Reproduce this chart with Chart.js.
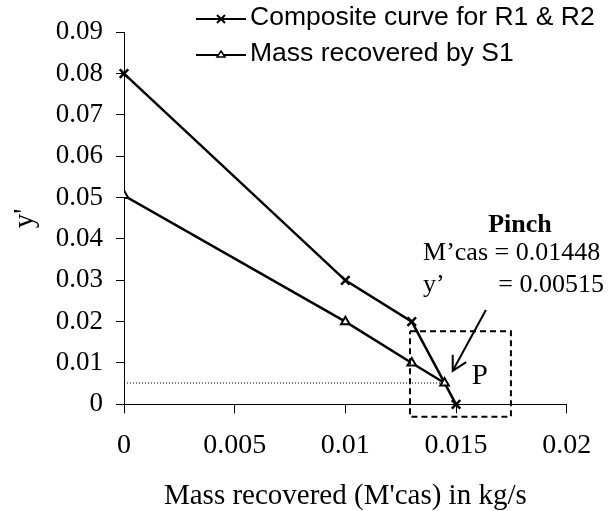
<!DOCTYPE html>
<html>
<head>
<meta charset="utf-8">
<script src="https://cdn.jsdelivr.net/npm/chart.js@4/dist/chart.umd.min.js"></script>
<style>
html, body { margin: 0; padding: 0; background: #fff; }
</style>
</head>
<body>
<canvas id="chart" width="608" height="511"></canvas>
<script>
// values
const compositeX = [0, 0.01, 0.013, 0.015];
const compositeY = [0.08, 0.03, 0.02, 0];
const s1X = [0, 0.01, 0.013, 0.01448];
const s1Y = [0.0505, 0.02, 0.01, 0.00515];
const seriesNames = ['Composite curve for R1 & R2', 'Mass recovered by S1'];
const xTickLabels = ['0', '0.005', '0.01', '0.015', '0.02'];
const yTickLabels = ['0', '0.01', '0.02', '0.03', '0.04', '0.05', '0.06', '0.07', '0.08', '0.09'];

// pinch point and the marks around it
const pinchX = 0.01448;
const pinchY = 0.00515;
const boxX = [0.01292, 0.01748];
const boxY = [-0.003, 0.0177];
const arrowFrom = [0.01635, 0.0228];
const arrowTo = [0.01485, 0.0081];

const serif = '"Liberation Serif", "Times New Roman", serif';
const sans = '"Liberation Sans", Arial, sans-serif';

const toPts = (xs, ys) => xs.map((x, i) => ({ x: x, y: ys[i] }));

const pinchNotes = {
    id: 'pinchNotes',
    afterDatasetsDraw(chart) {
        const ctx = chart.ctx;
        const xs = chart.scales.x, ys = chart.scales.y;
        const px = v => xs.getPixelForValue(v);
        const py = v => ys.getPixelForValue(v);
        ctx.save();
        ctx.fillStyle = '#000';
        ctx.strokeStyle = '#000';

        // arrow head
        const tx = px(arrowTo[0]), ty = py(arrowTo[1]);
        const ang = Math.atan2(py(arrowFrom[1]) - ty, px(arrowFrom[0]) - tx);
        ctx.lineWidth = 2;
        ctx.beginPath();
        ctx.moveTo(tx + 16 * Math.cos(ang - 0.5), ty + 16 * Math.sin(ang - 0.5));
        ctx.lineTo(tx, ty);
        ctx.lineTo(tx + 16 * Math.cos(ang + 0.5), ty + 16 * Math.sin(ang + 0.5));
        ctx.stroke();

        // texts
        ctx.textBaseline = 'middle';
        ctx.textAlign = 'center';
        ctx.font = 'bold 26px ' + serif;
        ctx.fillText('Pinch', px(0.01789), py(0.0434));
        ctx.font = '26px ' + serif;
        ctx.textAlign = 'left';
        ctx.fillText('M\u2019cas = ' + pinchX, px(0.01351), py(0.0366));
        ctx.fillText('y\u2019', px(0.01351), py(0.0289));
        ctx.textAlign = 'right';
        ctx.fillText('= ' + pinchY, px(0.02168), py(0.0289));
        ctx.textAlign = 'center';
        ctx.font = '29px ' + serif;
        ctx.fillText('P', px(0.01608), py(0.0067));

        // legend
        ctx.font = '26.5px ' + sans;
        ctx.textAlign = 'left';
        const rows = [18, 54];
        seriesNames.forEach((name, i) => {
            const y = rows[i];
            ctx.lineWidth = 2;
            ctx.beginPath();
            ctx.moveTo(196, y + 1);
            ctx.lineTo(246, y + 1);
            ctx.stroke();
            if (i === 0) {
                ctx.beginPath();
                ctx.moveTo(217, y - 3); ctx.lineTo(225, y + 5);
                ctx.moveTo(225, y - 3); ctx.lineTo(217, y + 5);
                ctx.stroke();
            } else {
                ctx.lineWidth = 1.5;
                ctx.fillStyle = '#fff';
                ctx.beginPath();
                ctx.moveTo(221, y - 3); ctx.lineTo(225, y + 3); ctx.lineTo(217, y + 3);
                ctx.closePath();
                ctx.fill();
                ctx.stroke();
                ctx.fillStyle = '#000';
            }
            ctx.fillText(name, 250, y);
        });
        ctx.restore();
    }
};

const ctx = document.getElementById('chart').getContext('2d');
new Chart(ctx, {
    type: 'scatter',
    data: {
        datasets: [
            {
                // dotted guide to the pinch
                data: [{ x: 0, y: pinchY }, { x: pinchX, y: pinchY }],
                showLine: true,
                borderColor: '#000',
                borderWidth: 1,
                borderDash: [1, 2],
                pointRadius: 0
            },
            {
                // dashed box round the pinch
                data: [
                    { x: boxX[0], y: boxY[1] }, { x: boxX[1], y: boxY[1] },
                    { x: boxX[1], y: boxY[0] }, { x: boxX[0], y: boxY[0] },
                    { x: boxX[0], y: boxY[1] }
                ],
                showLine: true,
                borderColor: '#000',
                borderWidth: 2,
                borderDash: [6, 4],
                pointRadius: 0,
                clip: false
            },
            {
                // arrow shaft
                data: [{ x: arrowFrom[0], y: arrowFrom[1] }, { x: arrowTo[0], y: arrowTo[1] }],
                showLine: true,
                borderColor: '#000',
                borderWidth: 2,
                pointRadius: 0,
                clip: false
            },
            {
                label: seriesNames[1],
                data: toPts(s1X, s1Y),
                showLine: true,
                borderColor: '#000',
                borderWidth: 2.5,
                pointStyle: 'triangle',
                pointRadius: 5,
                pointBorderWidth: 2,
                pointBackgroundColor: '#fff',
                pointBorderColor: '#000'
            },
            {
                label: seriesNames[0],
                data: toPts(compositeX, compositeY),
                showLine: true,
                borderColor: '#000',
                borderWidth: 2.5,
                pointStyle: 'crossRot',
                pointRadius: 6,
                pointBorderWidth: 2.5,
                pointBorderColor: '#000',
                clip: false
            }
        ]
    },
    options: {
        responsive: false,
        animation: false,
        events: [],
        layout: { padding: { left: 0, top: 32.3, right: 41.3, bottom: 0 } },
        plugins: {
            legend: { display: false },
            tooltip: { enabled: false }
        },
        scales: {
            x: {
                type: 'linear',
                min: 0,
                max: 0.02,
                afterFit: s => { s.height = 106.7; },
                ticks: {
                    stepSize: 0.005,
                    color: '#000',
                    padding: 16,
                    maxRotation: 0,
                    font: { family: serif, size: 28 },
                    callback: (v, i) => xTickLabels[i]
                },
                grid: { drawOnChartArea: false, tickLength: 9, tickColor: '#000', tickWidth: 1 },
                border: { display: true, color: '#000', width: 1 },
                title: {
                    display: true,
                    text: "Mass recovered (M'cas) in kg/s",
                    color: '#000',
                    font: { family: serif, size: 29, lineHeight: 1 },
                    padding: { top: 0, bottom: 0 }
                }
            },
            y: {
                type: 'linear',
                min: 0,
                max: 0.09,
                afterFit: s => { s.width = 124; },
                ticks: {
                    stepSize: 0.01,
                    color: '#000',
                    padding: 13,
                    font: { family: serif, size: 27 },
                    callback: (v, i) => yTickLabels[i]
                },
                grid: { drawOnChartArea: false, tickLength: 8, tickColor: '#000', tickWidth: 1 },
                border: { display: true, color: '#000', width: 1 },
                title: {
                    display: true,
                    text: "y'",
                    color: '#000',
                    font: { family: serif, size: 29, lineHeight: 1 },
                    padding: { top: 11, bottom: 0 }
                }
            }
        }
    },
    plugins: [pinchNotes]
});
</script>
</body>
</html>
